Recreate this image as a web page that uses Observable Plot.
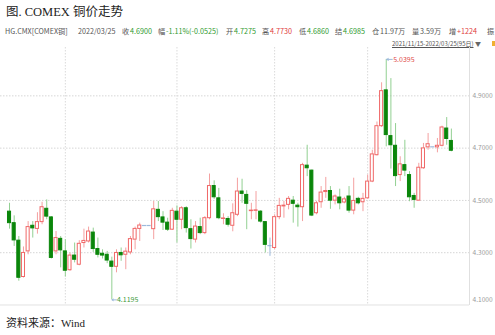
<!DOCTYPE html>
<html><head><meta charset="utf-8">
<script src="https://cdn.jsdelivr.net/npm/d3@7"></script>
<script src="https://cdn.jsdelivr.net/npm/@observablehq/plot@0.6"></script>
<style>
body{margin:0;background:#fff;}
#wrap{position:relative;width:495px;height:335px;overflow:hidden;font-family:"Noto Sans CJK SC",sans-serif;}
.t{position:absolute;white-space:nowrap;}
#title{left:6px;top:4px;font-size:12.5px;line-height:16px;font-family:"Liberation Serif","Noto Sans CJK SC",serif;color:#222;}
.h{position:absolute;top:27px;font-size:7.2px;line-height:9px;color:#555;white-space:nowrap;}
.g{color:#2f9a2f}.r{color:#e03c3c}
#range{left:392px;top:40px;font-size:6px;line-height:7px;color:#555;text-decoration:underline;}
#tri{left:475px;top:40px;font-size:6px;line-height:7px;color:#666;}
#ico{left:492px;top:41px;width:4px;height:5px;background:#f0b030;}
#foot{left:6px;top:316px;font-size:11px;line-height:14px;font-family:"Liberation Serif","Noto Sans CJK SC",serif;color:#222;}
#chart{position:absolute;left:0;top:44px;}
</style></head><body>
<div id="wrap">
<div class="t" id="title">图. COMEX 铜价走势</div>
<span class="h" style="left:5px">HG.CMX[COMEX铜]</span>
<span class="h" style="left:78px">2022/03/25</span>
<span class="h" style="left:122px">收</span><span class="h g" style="left:130px">4.6900</span>
<span class="h" style="left:158px">幅</span><span class="h g" style="left:166px">-1.11%(-0.0525)</span>
<span class="h" style="left:226px">开</span><span class="h g" style="left:234px">4.7275</span>
<span class="h" style="left:262px">高</span><span class="h r" style="left:270px">4.7730</span>
<span class="h" style="left:299px">低</span><span class="h g" style="left:307px">4.6860</span>
<span class="h" style="left:335px">结</span><span class="h g" style="left:343px">4.6985</span>
<span class="h" style="left:372px">仓</span><span class="h" style="left:380px">11.97万</span>
<span class="h" style="left:412px">量</span><span class="h" style="left:420px">3.59万</span>
<span class="h" style="left:449px">增</span><span class="h r" style="left:457px">+1224</span>
<span class="h" style="left:487px">振</span>
<div class="t" id="range">2021/11/15-2022/03/25(95日)</div>
<div class="t" id="tri">▼</div>
<div class="t" id="ico"></div>
<div id="chart"></div>
<div class="t" id="foot">资料来源：Wind</div>
</div>
<script>
const opens = [4.457,4.413,4.346,4.207,4.305,4.403,4.391,4.417,4.468,4.435,
 4.305,4.353,4.305,4.233,4.289,4.254,4.337,4.343,4.377,4.314,
 4.296,4.292,4.266,4.246,4.299,4.292,4.301,4.350,4.391,4.404,
 4.404,4.390,4.464,4.435,4.415,4.388,4.457,4.426,4.470,4.390,
 4.350,4.398,4.375,4.432,4.555,4.508,4.429,4.429,4.403,4.445,
 4.534,4.521,4.459,4.460,4.457,4.417,4.327,4.318,4.436,4.477,
 4.483,4.499,4.480,4.474,4.633,4.614,4.451,4.493,4.532,4.536,
 4.499,4.511,4.492,4.515,4.461,4.506,4.493,4.508,4.572,4.673,
 4.784,4.921,4.746,4.709,4.597,4.635,4.597,4.517,4.499,4.623,
 4.703,4.705,4.703,4.709,4.775,4.7275];
const highs = [4.489,4.441,4.362,4.322,4.419,4.419,4.453,4.493,4.502,4.438,
 4.381,4.362,4.350,4.299,4.337,4.346,4.390,4.398,4.394,4.356,
 4.311,4.305,4.283,4.311,4.318,4.318,4.362,4.398,4.413,4.404,
 4.404,4.496,4.496,4.457,4.432,4.470,4.479,4.476,4.476,4.426,
 4.419,4.432,4.438,4.601,4.575,4.546,4.449,4.438,4.487,4.585,
 4.581,4.537,4.489,4.534,4.461,4.419,4.356,4.445,4.508,4.496,
 4.515,4.515,4.489,4.642,4.711,4.616,4.496,4.553,4.588,4.553,
 4.521,4.543,4.512,4.553,4.585,4.512,4.527,4.597,4.692,4.800,
 4.950,5.0395,4.966,4.794,4.667,4.730,4.610,4.527,4.642,4.718,
 4.756,4.705,4.737,4.784,4.817,4.773];
const lows = [4.390,4.324,4.191,4.203,4.292,4.356,4.371,4.407,4.426,4.276,
 4.292,4.242,4.207,4.229,4.261,4.250,4.318,4.337,4.301,4.280,
 4.276,4.258,4.1195,4.223,4.267,4.235,4.292,4.311,4.343,4.404,
 4.404,4.350,4.419,4.385,4.381,4.385,4.337,4.388,4.375,4.314,
 4.337,4.369,4.369,4.426,4.504,4.426,4.407,4.398,4.380,4.438,
 4.489,4.388,4.426,4.426,4.413,4.299,4.286,4.311,4.426,4.432,
 4.464,4.413,4.398,4.419,4.591,4.438,4.445,4.470,4.508,4.466,
 4.483,4.464,4.487,4.451,4.445,4.483,4.457,4.505,4.568,4.670,
 4.779,4.705,4.620,4.553,4.572,4.591,4.495,4.470,4.499,4.619,
 4.692,4.705,4.682,4.705,4.711,4.686];
const closes = [4.413,4.347,4.204,4.299,4.398,4.393,4.417,4.474,4.438,4.280,
 4.356,4.309,4.231,4.289,4.273,4.334,4.345,4.381,4.314,4.292,
 4.289,4.270,4.246,4.299,4.290,4.304,4.352,4.391,4.404,4.404,
 4.404,4.466,4.436,4.415,4.388,4.460,4.426,4.470,4.394,4.352,
 4.400,4.375,4.432,4.555,4.512,4.432,4.431,4.407,4.451,4.534,
 4.525,4.487,4.461,4.462,4.419,4.330,4.327,4.436,4.479,4.480,
 4.506,4.487,4.474,4.635,4.623,4.442,4.489,4.530,4.536,4.499,
 4.515,4.489,4.504,4.461,4.498,4.489,4.506,4.572,4.676,4.784,
 4.918,4.750,4.711,4.593,4.638,4.614,4.512,4.502,4.625,4.699,
 4.715,4.705,4.709,4.779,4.735,4.690];
const yTicks = [4.1, 4.3, 4.5, 4.7, 4.9];
const monthStartIdx = [12, 36, 57, 77];

const UP = "#f06868", UPW = "#f4a0a0", DN = "#0a860a", DNW = "#92d092", FL = "#9cb9dc";
const data = opens.map((o, i) => ({i, o, h: highs[i], l: lows[i], c: closes[i],
  k: closes[i] > o ? "up" : closes[i] < o ? "dn" : "fl"}));
const bars = data.filter(d => d.k !== "fl");
const flats = data.filter(d => d.k === "fl");
const hiD = data.reduce((a, b) => b.h > a.h ? b : a);
const loD = data.reduce((a, b) => b.l < a.l ? b : a);
const xDom = [-1.94, 98.9];
const fmt = v => v.toFixed(4);

const chart = Plot.plot({
  width: 495, height: 268,
  marginTop: 3, marginBottom: 7, marginLeft: 0, marginRight: 26,
  x: {domain: xDom, axis: null},
  y: {domain: [4.098, 5.085], axis: null},
  style: {background: "transparent", fontFamily: "Noto Sans CJK SC, sans-serif", overflow: "visible"},
  marks: [
    Plot.ruleY(yTicks.slice(1), {stroke: "#d6d6d6", strokeDasharray: "1.5,1.5"}),
    Plot.ruleY(yTicks.slice(0, 1), {stroke: "#e2e2e2"}),
    Plot.ruleX(monthStartIdx, {stroke: "#dadada", strokeDasharray: "1.5,1.5"}),
    Plot.ruleX([xDom[1]], {stroke: "#e0e0e0"}),
    Plot.ruleX(data, {x: "i", y1: "l", y2: "h", strokeWidth: 1,
      stroke: d => d.k === "up" ? UPW : d.k === "dn" ? DNW : FL}),
    Plot.rect(bars, {x1: d => d.i - 0.33, x2: d => d.i + 0.33, y1: "o", y2: "c",
      fill: d => d.k === "up" ? "#fff" : DN, stroke: d => d.k === "up" ? UP : DN, strokeWidth: 1}),
    Plot.ruleY(flats, {y: "c", x1: d => d.i - 0.45, x2: d => d.i + 0.45, stroke: FL, strokeWidth: 1.2}),
    Plot.arrow([hiD], {x1: d => d.i + 1.3, y1: "h", x2: d => d.i + 0.1, y2: "h", stroke: FL, headLength: 3, strokeWidth: 1}),
    Plot.text([hiD], {x: d => d.i + 1.5, y: "h", text: d => fmt(d.h), textAnchor: "start", fill: "#e04a4a", fontSize: 7}),
    Plot.arrow([loD], {x1: d => d.i + 1.0, y1: "l", x2: d => d.i + 0.05, y2: "l", stroke: FL, headLength: 3, strokeWidth: 1}),
    Plot.text([loD], {x: d => d.i + 1.1, y: "l", text: d => fmt(d.l), textAnchor: "start", fill: "#3a9a3a", fontSize: 7}),
    Plot.text(yTicks.slice(1), {x: xDom[1], y: d => d, text: fmt, dx: 3, textAnchor: "start", fill: "#9a9a9a", fontSize: 6.6}),
    Plot.text(yTicks.slice(0, 1), {x: xDom[1], y: d => d, text: fmt, dx: 3, dy: -5, textAnchor: "start", fill: "#9a9a9a", fontSize: 6.6})
  ]
});
document.getElementById("chart").appendChild(chart);
</script>
</body></html>
